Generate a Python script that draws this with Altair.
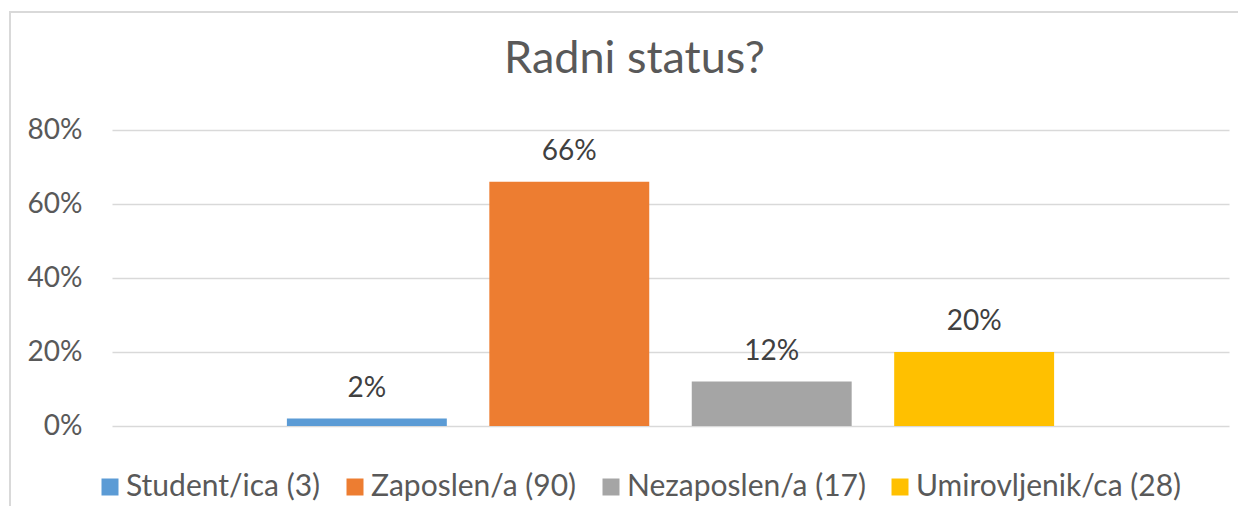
import altair as alt
import pandas as pd

categories = ["Student/ica (3)", "Zaposlen/a (90)", "Nezaposlen/a (17)", "Umirovljenik/ca (28)"]
values = [0.02, 0.66, 0.12, 0.20]
colors = ["#5B9BD5", "#ED7D31", "#A5A5A5", "#FFC000"]
y_ticks = [0, 0.2, 0.4, 0.6, 0.8]

df = pd.DataFrame({"status": categories, "share": values})

FONT = "Lato"
TXT = "#595959"

x_enc = alt.X("status:N", sort=categories, axis=None,
              scale=alt.Scale(paddingInner=0.21, paddingOuter=0.864))
y_enc = alt.Y("share:Q",
              scale=alt.Scale(domain=[0, 0.8], nice=False),
              axis=alt.Axis(values=y_ticks, format=".0%", title=None, domain=False,
                            ticks=False, labelPadding=30, labelFontSize=28,
                            labelColor=TXT, labelFont=FONT, gridColor="#D9D9D9",
                            gridWidth=1.5))

bars = alt.Chart(df).mark_bar().encode(
    x=x_enc,
    y=y_enc,
    color=alt.Color("status:N", sort=categories,
                    scale=alt.Scale(domain=categories, range=colors),
                    legend=alt.Legend(title=None, orient="none", legendX=-17, legendY=342,
                                      direction="horizontal", columns=4,
                                      symbolType="square", symbolSize=289,
                                      symbolStrokeWidth=0, labelFontSize=30,
                                      labelFont=FONT, labelColor=TXT,
                                      labelOffset=1, columnPadding=19,
                                      labelLimit=400)),
)

labels = alt.Chart(df).mark_text(baseline="alphabetic", dy=-22, fontSize=28,
                                 font=FONT, color="#404040").encode(
    x=x_enc,
    y=alt.Y("share:Q", scale=alt.Scale(domain=[0, 0.8], nice=False)),
    text=alt.Text("share:Q", format=".0%"),
)

border = alt.Chart(pd.DataFrame({"a": [0]})).mark_rect(
    fill=None, stroke="#D9D9D9", strokeWidth=2
).encode(x=alt.value(-102), x2=alt.value(1400), y=alt.value(-118), y2=alt.value(600))

chart = alt.layer(border, bars, labels).properties(
    width=1117, height=296,
    title=alt.TitleParams("Radni status?", fontSize=45, font=FONT, color=TXT,
                          fontWeight="normal", anchor="middle", dx=-36, offset=-107,
                          baseline="alphabetic"),
    autosize=alt.AutoSizeParams(type="none"),
    padding={"left": 104, "top": 122, "right": 9, "bottom": 80},
).configure_view(stroke=None)

chart.save("out.html", embed_options={"renderer": "svg", "actions": False})
